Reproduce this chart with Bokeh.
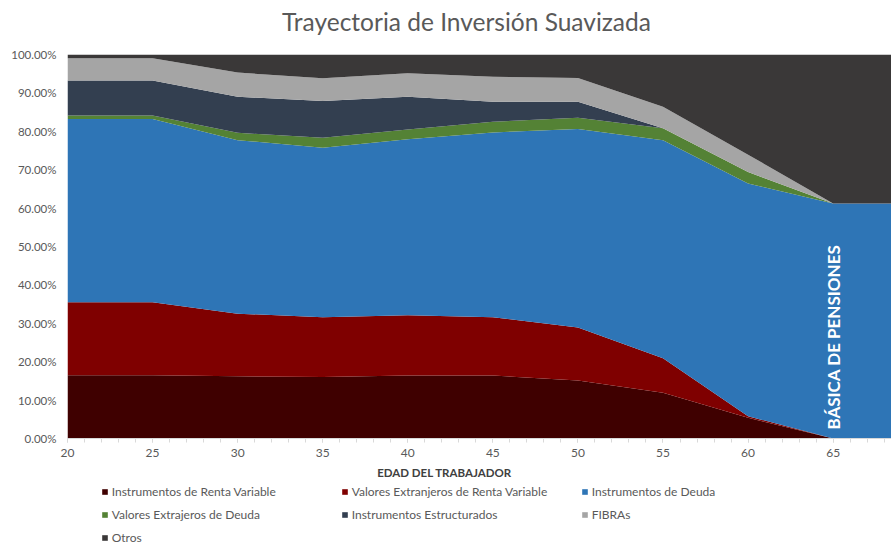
from bokeh.plotting import figure
from bokeh.layouts import column
from bokeh.models import (ColumnDataSource, Range1d, PrintfTickFormatter,
                          FixedTicker, Label, Legend, LegendItem)
from bokeh.embed import file_html
from bokeh.resources import INLINE

# ---- data (percent of portfolio, per component) ----
ages = [20, 25, 30, 35, 40, 45, 50, 55, 60, 65, 70]
renta_variable = [16.5, 16.5, 16.2, 16.0, 16.4, 16.4, 15.1, 11.9, 5.4, 0.0, 0.0]
extranjeros_rv = [19.0, 19.0, 16.3, 15.6, 15.7, 15.2, 13.8, 9.0, 0.4, 0.0, 0.0]
deuda = [47.7, 47.7, 45.2, 44.1, 45.8, 48.1, 51.7, 56.8, 60.6, 61.2, 61.2]
extranjeros_deuda = [0.9, 0.9, 1.9, 2.6, 2.6, 2.8, 2.9, 3.1, 3.0, 0.0, 0.0]
estructurados = [9.1, 9.1, 9.4, 9.6, 8.5, 5.2, 4.2, 0.0, 0.0, 0.0, 0.0]
fibras = [5.8, 5.8, 6.3, 5.9, 6.1, 6.5, 6.2, 5.6, 4.5, 0.0, 0.0]
otros = [1.0, 1.0, 4.7, 6.2, 4.9, 5.8, 6.1, 13.6, 26.1, 38.8, 38.8]

series_names = ["Instrumentos de Renta Variable",
                "Valores Extranjeros de Renta Variable",
                "Instrumentos de Deuda",
                "Valores Extrajeros de Deuda",
                "Instrumentos Estructurados",
                "FIBRAs",
                "Otros"]
series_keys = ["rv", "rvx", "deuda", "dx", "estr", "fibras", "otros"]
colors = ["#3F0000", "#7F0000", "#2E75B6", "#548235", "#333F50", "#A5A5A5", "#3A3838"]
legend_rows = [[0, 1, 2], [3, 4, 5], [6]]
x_ticks = [20, 25, 30, 35, 40, 45, 50, 55, 60, 65]
y_ticks = [0, 10, 20, 30, 40, 50, 60, 70, 80, 90, 100]

title_text = "Trayectoria de Inversión Suavizada"
x_title = "EDAD DEL TRABAJADOR"
note_text = "BÁSICA DE PENSIONES"

FONT = "Lato"
GRAY = "#595959"
W = 891
LEFT = 67


def blank_figure(height):
    # strip whose frame lines up with the chart frame; x in page pixels, y in strip pixels
    f = figure(width=W, height=height, x_range=Range1d(LEFT, W), y_range=Range1d(0, height),
               output_backend="svg", toolbar_location=None,
               x_axis_location=None, y_axis_location=None,
               min_border_left=LEFT, min_border_right=0, min_border_top=0, min_border_bottom=0)
    f.outline_line_color = None
    f.xgrid.visible = False
    f.ygrid.visible = False
    f.background_fill_color = "white"
    f.border_fill_color = "white"
    return f


src = ColumnDataSource(dict(age=ages, rv=renta_variable, rvx=extranjeros_rv,
                            deuda=deuda, dx=extranjeros_deuda, estr=estructurados,
                            fibras=fibras, otros=otros))

# ---------------- title strip ----------------
tf = blank_figure(40)
tf.add_layout(Label(x=466, y=19.5, text=title_text, text_align="center",
                    text_baseline="middle", text_font=FONT, text_font_size="24.5px",
                    text_color=GRAY))

# ---------------- main chart ----------------
p = figure(width=W, height=423, x_range=Range1d(20, 68.43), y_range=Range1d(0, 100),
           output_backend="svg", toolbar_location=None,
           min_border_left=LEFT, min_border_right=0, min_border_top=14, min_border_bottom=25)
p.outline_line_color = None
p.background_fill_color = "white"
p.border_fill_color = "white"

p.varea_stack(stackers=series_keys, x="age", color=colors, source=src)

p.xgrid.visible = False
p.ygrid.visible = False
xa = p.xaxis[0]
xa.ticker = FixedTicker(ticks=x_ticks, minor_ticks=list(range(20, 69)))
xa.axis_line_color = "#D9D9D9"
xa.major_tick_line_color = "#D9D9D9"
xa.minor_tick_line_color = "#D9D9D9"
xa.major_tick_in = 0
xa.major_tick_out = 4
xa.minor_tick_in = 0
xa.minor_tick_out = 4
xa.major_label_standoff = 6
xa.major_label_text_font = FONT
xa.major_label_text_font_size = "12px"
xa.major_label_text_color = GRAY

ya = p.yaxis[0]
ya.ticker = FixedTicker(ticks=y_ticks)
ya.formatter = PrintfTickFormatter(format="%.2f%%")
ya.axis_line_color = None
ya.major_tick_line_color = None
ya.minor_tick_line_color = None
ya.major_tick_out = 0
ya.major_tick_in = 0
ya.major_label_standoff = 11
ya.major_label_text_font = FONT
ya.major_label_text_font_size = "11.5px"
ya.major_label_text_color = GRAY

p.add_layout(Label(x=65.0, y=26.4, text=note_text, angle=1.5708, angle_units="rad",
                   text_align="center", text_baseline="middle", text_font=FONT,
                   text_font_size="17px", text_font_style="bold", text_color="white"))

# ---------------- axis title + legend strip ----------------
lf = blank_figure(80)
lf.extra_y_ranges = {"hidden": Range1d(1000, 1100)}
lf.add_layout(Label(x=444, y=71.3, text=x_title, text_align="center",
                    text_baseline="middle", text_font=FONT, text_font_size="11.5px",
                    text_font_style="bold", text_color="#404040"))

# legend swatches reuse the same stacked series (mapped outside the visible strip)
proxies = lf.varea_stack(stackers=series_keys, x="age", color=colors, source=src,
                         y_range_name="hidden")

row_h = 23
for r, row in enumerate(legend_rows):
    items = [LegendItem(label=series_names[i], renderers=[proxies[i]]) for i in row]
    lg = Legend(items=items, location=(100.7 - LEFT, 40.5 - r * row_h),
                orientation="horizontal",
                glyph_width=7, glyph_height=7, label_standoff=4, label_width=229,
                label_height=row_h, spacing=0, padding=0, margin=0,
                border_line_color=None, background_fill_alpha=0,
                label_text_font=FONT, label_text_font_size="12px",
                label_text_color=GRAY)
    lf.add_layout(lg)

layout = column(tf, p, lf, spacing=0)
open("out.html", "w").write(file_html(layout, INLINE))
